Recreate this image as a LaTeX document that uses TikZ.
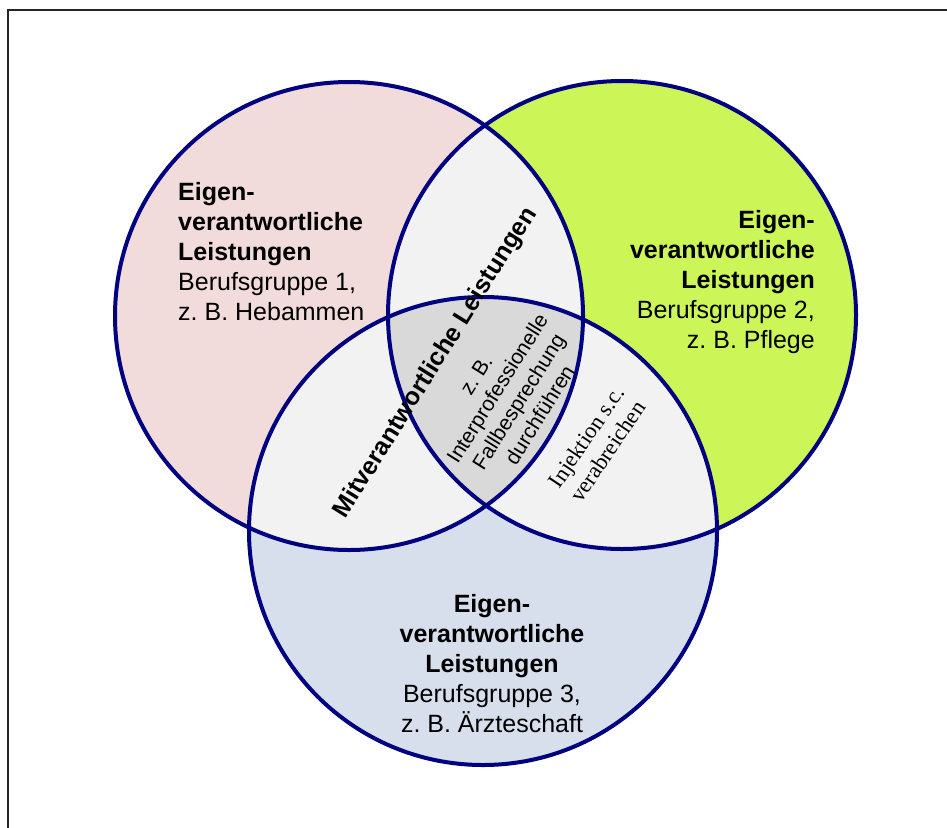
\documentclass[tikz,border=0pt]{standalone}
\usepackage{fontspec}
\setmainfont{Liberation Sans}
\newfontfamily\injfont{Liberation Serif}
\definecolor{ringblue}{RGB}{0,0,128}
\definecolor{pinkfill}{RGB}{242,220,219}
\definecolor{greenfill}{RGB}{204,245,88}
\definecolor{bluefill}{RGB}{214,223,235}
\definecolor{lensfill}{RGB}{242,242,242}
\definecolor{corefill}{RGB}{217,217,217}
\frenchspacing
\begin{document}
\begin{tikzpicture}[x=1pt,y=-1pt,
  ring/.style={draw=ringblue, line width=4pt},
  frameline/.style={draw=black!85, line width=2pt},
  grouptext/.style={inner sep=0pt, font=\fontsize{25}{30}\selectfont},
  sharedhead/.style={inner sep=0pt, rotate=58, font=\bfseries\fontsize{25}{30}\selectfont},
  sharedtext/.style={inner sep=0pt, rotate=58, align=center, font=\fontsize{21}{25}\selectfont},
  pairtext/.style={inner sep=0pt, rotate=56, align=center, font=\injfont\fontsize{22.5}{26}\selectfont}]
\useasboundingbox (0,0) rectangle (947,827);
\def\R{234}
\coordinate (P) at (349,316);
\coordinate (G) at (622,315);
\coordinate (B) at (483,531);

% outer frame
\draw[frameline] (8,840) -- (8,10) -- (960,10);

% circle fills
\fill[pinkfill] (P) circle (\R);
\fill[greenfill] (G) circle (\R);
\fill[bluefill] (B) circle (\R);
% pairwise overlaps
\begin{scope}
  \clip (P) circle (\R);
  \fill[lensfill] (G) circle (\R);
  \fill[lensfill] (B) circle (\R);
\end{scope}
\begin{scope}
  \clip (G) circle (\R);
  \fill[lensfill] (B) circle (\R);
\end{scope}
% triple overlap
\begin{scope}
  \clip (P) circle (\R);
  \clip (G) circle (\R);
  \fill[corefill] (B) circle (\R);
\end{scope}
% outlines
\draw[ring] (P) circle (\R);
\draw[ring] (G) circle (\R);
\draw[ring] (B) circle (\R);

% labels
\node[grouptext, anchor=north west, align=left] (t1) at (178,182)
  {\textbf{Eigen-}\\\textbf{verantwortliche}\\\textbf{Leistungen}\\Berufsgruppe 1,\\z. B. Hebammen};
\node[grouptext, anchor=north east, align=right] (t2) at (815,210)
  {\textbf{Eigen-}\\\textbf{verantwortliche}\\\textbf{Leistungen}\\Berufsgruppe 2,\\z. B. Pflege};
\node[grouptext, anchor=north, align=center] (t3) at (492,594)
  {\textbf{Eigen-}\\\textbf{verantwortliche}\\\textbf{Leistungen}\\Berufsgruppe 3,\\z. B. Ärzteschaft};
\node[sharedhead] (mit) at (436,363) {Mitverantwortliche Leistungen};
\node[sharedtext] (fall) at (508,395) {z. B.\\Interprofessionelle\\Fallbesprechung\\durchführen};
\node[pairtext] (inj) at (597,444) {Injektion s.c.\\verabreichen};
\end{tikzpicture}
\end{document}
